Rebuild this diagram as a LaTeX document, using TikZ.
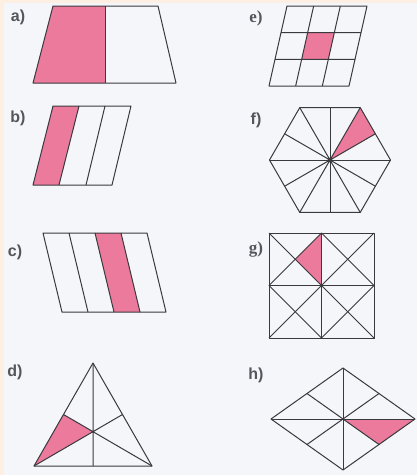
\documentclass[tikz,border=0pt]{standalone}
\usepackage{fontspec}
\usetikzlibrary{calc}
\setmainfont{Liberation Serif}
\setsansfont{Liberation Sans}
\definecolor{peach}{RGB}{253,240,226}
\definecolor{paper}{RGB}{244,246,249}
\definecolor{pinkf}{RGB}{236,122,156}
\definecolor{ink}{RGB}{58,58,62}
\definecolor{lab}{RGB}{85,85,92}
\tikzset{
  edge/.style={draw=ink, line width=1.0pt, line join=round},
  shade/.style={fill=pinkf},
  lbl/.style={text=lab, font=\sffamily\bfseries\fontsize{16}{18}\selectfont, inner sep=0pt},
  lbls/.style={text=lab, font=\rmfamily\bfseries\fontsize{17}{19}\selectfont, inner sep=0pt},
}
\begin{document}
\begin{tikzpicture}[x=1pt,y=-1pt]
\useasboundingbox (0,0) rectangle (417,475);
\fill[peach] (0,0) rectangle (417,475);
\fill[paper] (4,3) rectangle (417,475);

% ---------- a) trapezoid, halves
\node[lbl] (la) at (18,17) {a)};
\coordinate (a1) at (53,6); \coordinate (a2) at (158,6);
\coordinate (a3) at (176,83); \coordinate (a4) at (33,83);
\coordinate (am1) at (105,6); \coordinate (am2) at (105,83);
\fill[shade] (a1) -- (am1) -- (am2) -- (a4) -- cycle;
\draw[edge] (a1) -- (a2) -- (a3) -- (a4) -- cycle;
\draw[edge] (am1) -- (am2);

% ---------- b) parallelogram, thirds
\node[lbl] (lb) at (18,118) {b)};
\coordinate (b1) at (53,106); \coordinate (b2) at (131,106);
\coordinate (b3) at (112,185); \coordinate (b4) at (33,185);
\coordinate (bt1) at (79,106); \coordinate (bt2) at (105,106);
\coordinate (bb1) at (59,185); \coordinate (bb2) at (86,185);
\fill[shade] (b1) -- (bt1) -- (bb1) -- (b4) -- cycle;
\draw[edge] (b1) -- (b2) -- (b3) -- (b4) -- cycle;
\draw[edge] (bt1) -- (bb1) (bt2) -- (bb2);

% ---------- c) parallelogram, quarters
\node[lbl] (lc) at (15,252) {c)};
\coordinate (c1) at (43,233); \coordinate (c2) at (147,233);
\coordinate (c3) at (166,312); \coordinate (c4) at (62,312);
\coordinate (ct1) at (69,233); \coordinate (ct2) at (95,233); \coordinate (ct3) at (121,233);
\coordinate (cb1) at (88,312); \coordinate (cb2) at (114,312); \coordinate (cb3) at (140,312);
\fill[shade] (ct2) -- (ct3) -- (cb3) -- (cb2) -- cycle;
\draw[edge] (c1) -- (c2) -- (c3) -- (c4) -- cycle;
\draw[edge] (ct1) -- (cb1) (ct2) -- (cb2) (ct3) -- (cb3);

% ---------- d) triangle with medians
\node[lbl] (ld) at (15,372) {d)};
\coordinate (d1) at (93,363); \coordinate (d2) at (152,466); \coordinate (d3) at (34,466);
\coordinate (dc) at (93,431.7);
\coordinate (dmb) at (93,466); \coordinate (dmr) at (122.5,414.5); \coordinate (dml) at (63.5,414.5);
\fill[shade] (d3) -- (dml) -- (dc) -- cycle;
\draw[edge] (d1) -- (d2) -- (d3) -- cycle;
\draw[edge] (d1) -- (dmb) (d3) -- (dmr) (d2) -- (dml);

% ---------- e) 3x3 parallelogram grid
\node[lbls] (le) at (256,18) {e)};
\coordinate (e1) at (287,6); \coordinate (e2) at (367,6);
\coordinate (e3) at (349,86); \coordinate (e4) at (269,86);
\coordinate (ep1) at (307.67,32.67); \coordinate (ep2) at (334.33,32.67);
\coordinate (ep3) at (328.33,59.33); \coordinate (ep4) at (301.67,59.33);
\fill[shade] (ep1) -- (ep2) -- (ep3) -- (ep4) -- cycle;
\draw[edge] (e1) -- (e2) -- (e3) -- (e4) -- cycle;
\draw[edge] ($(e1)!1/3!(e2)$) -- ($(e4)!1/3!(e3)$) ($(e1)!2/3!(e2)$) -- ($(e4)!2/3!(e3)$)
  ($(e1)!1/3!(e4)$) -- ($(e2)!1/3!(e3)$) ($(e1)!2/3!(e4)$) -- ($(e2)!2/3!(e3)$);

% ---------- f) hexagon in 12 parts
\node[lbl] (lf) at (256,120) {f)};
\coordinate (fc) at (330,160);
\foreach \i in {0,...,5} { \coordinate (fv\i) at ($(fc)+(\i*60:60.5)$); }
\foreach \i in {0,...,5} { \coordinate (fm\i) at ($(fc)+(\i*60+30:52.4)$); }
\fill[shade] (fc) -- (fv5) -- (fm5) -- cycle;
\draw[edge] (fv0) -- (fv1) -- (fv2) -- (fv3) -- (fv4) -- (fv5) -- cycle;
\foreach \i in {0,...,5} { \draw[edge] (fc) -- (fv\i); \draw[edge] (fc) -- (fm\i); }
\fill[ink] (fc) circle (2.4);

% ---------- g) square 2x2 with diagonals
\node[lbls] (lg) at (256,249) {g)};
\coordinate (g1) at (269,233); \coordinate (g2) at (374,233);
\coordinate (g3) at (374,338); \coordinate (g4) at (269,338);
\coordinate (gt) at (321.5,233); \coordinate (gb) at (321.5,338);
\coordinate (gl) at (269,285.5); \coordinate (gr) at (374,285.5);
\coordinate (gc) at (321.5,285.5);
\coordinate (gq) at (295.25,259.25);
\fill[shade] (gt) -- (gq) -- (gc) -- cycle;
\draw[edge] (g1) -- (g2) -- (g3) -- (g4) -- cycle;
\draw[edge] (gt) -- (gb) (gl) -- (gr);
\draw[edge] (g1) -- (gc) -- (g3) (g2) -- (gc) -- (g4);
\draw[edge] (gt) -- (gl) -- (gb) -- (gr) -- cycle;

% ---------- h) rhombus in 8 parts
\node[lbl] (lh) at (256,375) {h)};
\coordinate (h1) at (343,368); \coordinate (h2) at (415,419);
\coordinate (h3) at (343,470); \coordinate (h4) at (271,419);
\coordinate (hc) at (343,419);
\coordinate (hm12) at ($(h1)!0.5!(h2)$); \coordinate (hm23) at ($(h2)!0.5!(h3)$);
\coordinate (hm34) at ($(h3)!0.5!(h4)$); \coordinate (hm41) at ($(h4)!0.5!(h1)$);
\fill[shade] (hc) -- (h2) -- (hm23) -- cycle;
\draw[edge] (h1) -- (h2) -- (h3) -- (h4) -- cycle;
\draw[edge] (h1) -- (h3) (h4) -- (h2);
\draw[edge] (hm12) -- (hm34) (hm23) -- (hm41);
\end{tikzpicture}
\end{document}
